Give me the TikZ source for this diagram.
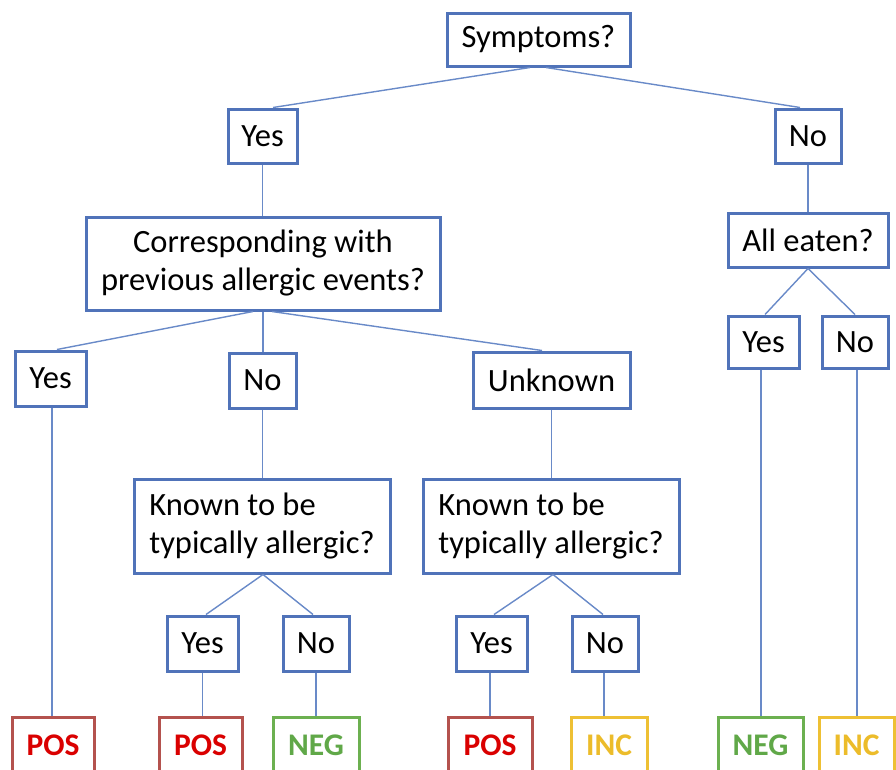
\documentclass[tikz,border=0pt]{standalone}
\usepackage{fontspec}
\setmainfont{Carlito}
\definecolor{boxblue}{RGB}{80,115,185}
\definecolor{linkblue}{RGB}{105,138,200}
\definecolor{posborder}{RGB}{180,82,78}
\definecolor{postext}{RGB}{218,0,0}
\definecolor{negborder}{RGB}{108,176,80}
\definecolor{negtext}{RGB}{96,168,72}
\definecolor{incborder}{RGB}{238,192,52}
\definecolor{inctext}{RGB}{236,188,42}
\tikzset{
  qbox/.style={draw=boxblue, line width=3pt, fill=white, inner sep=0pt, align=center,
    font=\fontsize{32.5}{38}\selectfont},
  resbox/.style={fill=white, line width=3pt, inner sep=0pt, minimum height=56pt,
    font=\fontsize{31.5}{37}\selectfont\bfseries},
  posbox/.style={resbox, draw=posborder, text=postext},
  negbox/.style={resbox, draw=negborder, text=negtext},
  incbox/.style={resbox, draw=incborder, text=inctext},
  link/.style={draw=linkblue, line width=1.4pt}
}
\begin{document}
\begin{tikzpicture}[x=1pt, y=-1pt]
\useasboundingbox (0,0) rectangle (896,769);
\clip (0,0) rectangle (896,769);
% question / answer nodes
\node[qbox, minimum width=183pt, minimum height=53pt] (sym) at (538.5,39.5) {Symptoms?};
\node[qbox, minimum width=69pt, minimum height=54pt] (yes1) at (262.5,136) {Yes};
\node[qbox, minimum width=66pt, minimum height=54pt] (no1) at (808,136) {No};
\node[qbox, minimum width=354pt, minimum height=93pt] (corr) at (263,263.5) {Corresponding with\\previous allergic events?};
\node[qbox, minimum width=160pt, minimum height=54pt] (alle) at (808,240) {All eaten?};
\node[qbox, minimum width=71pt, minimum height=55pt] (yes2) at (50.5,378.5) {Yes};
\node[qbox, minimum width=67pt, minimum height=55pt] (no2) at (262.5,380.5) {No};
\node[qbox, minimum width=157pt, minimum height=56pt] (unk) at (551.5,380) {Unknown};
\node[qbox, minimum width=71pt, minimum height=52pt] (yes3) at (763.5,342) {Yes};
\node[qbox, minimum width=66pt, minimum height=52pt] (no3) at (855,342) {No};
\node[qbox, align=left, minimum width=256pt, minimum height=94pt] (kn1) at (262,526) {Known to be\\typically allergic?};
\node[qbox, align=left, minimum width=256pt, minimum height=94pt] (kn2) at (551,526) {Known to be\\typically allergic?};
\node[qbox, minimum width=71pt, minimum height=55pt] (yes4) at (202.5,643.5) {Yes};
\node[qbox, minimum width=66pt, minimum height=55pt] (no4) at (316,643.5) {No};
\node[qbox, minimum width=71pt, minimum height=55pt] (yes5) at (491.5,643.5) {Yes};
\node[qbox, minimum width=66pt, minimum height=55pt] (no5) at (605,643.5) {No};
% result nodes
\node[posbox, minimum width=82pt] (pos1) at (53,745) {POS};
\node[posbox, minimum width=83pt] (pos2) at (200.5,745) {POS};
\node[negbox, minimum width=86pt] (neg1) at (316,745) {NEG};
\node[posbox, minimum width=84pt] (pos3) at (490,745) {POS};
\node[incbox, minimum width=76pt] (inc1) at (609,745) {INC};
\node[negbox, minimum width=85pt] (neg2) at (760.5,745) {NEG};
\node[incbox, minimum width=75pt] (inc2) at (856.5,745) {INC};
% connectors
\draw[link] ([xshift=-8.5pt]sym.south) -- ([xshift=10.5pt]yes1.north);
\draw[link] ([xshift=7.5pt]sym.south) -- ([xshift=-8pt]no1.north);
\draw[link] (yes1.south) -- (yes1.south |- corr.north);
\draw[link] (no1.south) -- (alle.north);
\draw[link] ([xshift=-10pt]corr.south) -- ([xshift=6.5pt]yes2.north);
\draw[link] (corr.south) -- (corr.south |- no2.north);
\draw[link] ([xshift=9pt]corr.south) -- ([xshift=-9.5pt]unk.north);
\draw[link] (alle.south) -- ([xshift=1.5pt]yes3.north);
\draw[link] (alle.south) -- (no3.north);
\draw[link] (no2.south) -- (no2.south |- kn1.north);
\draw[link] (unk.south) -- (unk.south |- kn2.north);
\draw[link] ([xshift=1pt]kn1.south) -- ([xshift=3.5pt]yes4.north);
\draw[link] ([xshift=1pt]kn1.south) -- ([xshift=-3pt]no4.north);
\draw[link] ([xshift=2pt]kn2.south) -- ([xshift=2.5pt]yes5.north);
\draw[link] ([xshift=2pt]kn2.south) -- ([xshift=-2pt]no5.north);
\draw[link] ([xshift=1.5pt]yes2.south) -- ([xshift=1.5pt]yes2.south |- pos1.north);
\draw[link] (yes4.south) -- (yes4.south |- pos2.north);
\draw[link] (no4.south) -- (no4.south |- neg1.north);
\draw[link] ([xshift=-1.5pt]yes5.south) -- ([xshift=-1.5pt]yes5.south |- pos3.north);
\draw[link] ([xshift=-1pt]no5.south) -- ([xshift=-1pt]no5.south |- inc1.north);
\draw[link] ([xshift=-2.5pt]yes3.south) -- ([xshift=-2.5pt]yes3.south |- neg2.north);
\draw[link] ([xshift=2pt]no3.south) -- ([xshift=2pt]no3.south |- inc2.north);
\end{tikzpicture}
\end{document}
